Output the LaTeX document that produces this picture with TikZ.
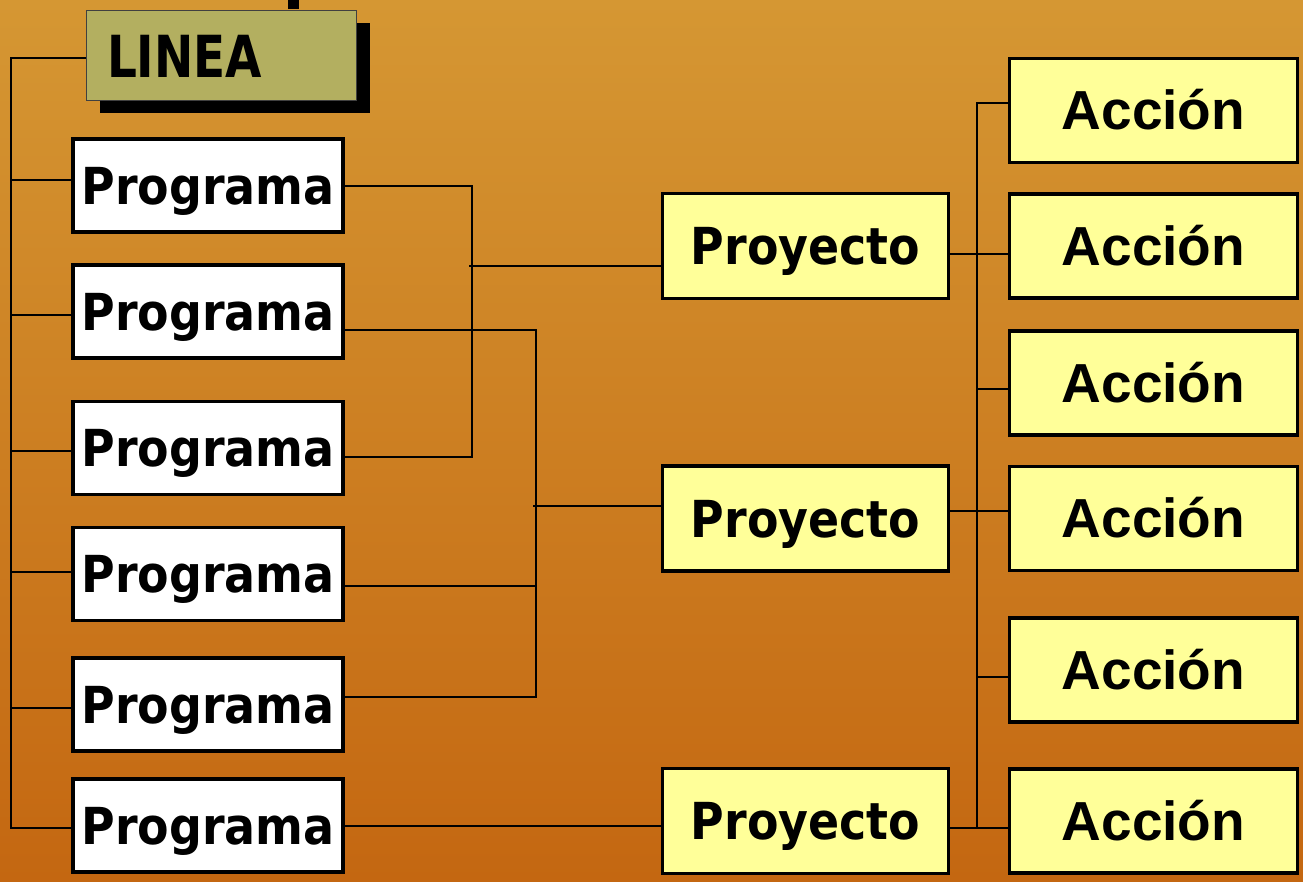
\documentclass[tikz,border=0pt]{standalone}
\usepackage{fontspec}
\newfontfamily\tahfont{DejaVu Sans Condensed}
\newfontfamily\arifont{Liberation Sans}
\usetikzlibrary{shadows,calc}
\definecolor{bgtop}{RGB}{213,151,51}
\definecolor{bgbot}{RGB}{196,103,17}
\definecolor{olivebox}{RGB}{179,175,96}
\definecolor{paleyellow}{RGB}{255,255,153}
\begin{document}
\begin{tikzpicture}[x=1pt,y=-1pt,
  conn/.style={line width=2pt, draw=black},
  linebox/.style={draw=black!75, line width=1.3pt, fill=olivebox, minimum width=270pt, minimum height=90pt, inner sep=0pt,
    text width=229pt, align=left, font=\tahfont\bfseries\fontsize{58}{58}\selectfont, text height=44pt, text depth=0pt,
    drop shadow={shadow xshift=13pt, shadow yshift=-12pt, fill=black, opacity=1}},
  progbox/.style={draw=black, line width=3.5pt, fill=white, minimum width=270pt, minimum height=93pt, inner sep=0pt,
    font=\tahfont\bfseries\fontsize{51}{51}\selectfont, text height=37pt, text depth=0pt},
  projbox/.style={draw=black, line width=3.3pt, fill=paleyellow, minimum width=286pt, minimum height=105pt, inner sep=0pt,
    font=\tahfont\bfseries\fontsize{51}{51}\selectfont, text height=37pt, text depth=0pt},
  actbox/.style={draw=black, line width=3.3pt, fill=paleyellow, minimum width=288pt, minimum height=104pt, inner sep=0pt,
    font=\arifont\bfseries\fontsize{55}{55}\selectfont, text height=38pt, text depth=0pt}
]
\shade[top color=bgtop, bottom color=bgbot] (0,0) rectangle (1303,881);
\useasboundingbox (0,0) rectangle (1303,881);

% top stub
\coordinate (tb) at (293.5,0);

% nodes
\node[linebox] (linea) at (221.5,55.5) {\scalebox{0.9}[1]{LINEA}};
\draw[line width=11pt] ($(tb |- linea.north)+(0,-0.7)$) -- (tb);

\node[progbox] (p1) at (208,185.5) {Programa};
\node[progbox] (p2) at (208,311.5) {Programa};
\node[progbox] (p3) at (208,448) {Programa};
\node[progbox] (p4) at (208,574) {Programa};
\node[progbox] (p5) at (208,704.5) {Programa};
\node[progbox] (p6) at (208,825.5) {Programa};

\node[projbox] (pr1) at (805.5,246) {Proyecto};
\node[projbox] (pr2) at (805.5,518.5) {Proyecto};
\node[projbox] (pr3) at (805.5,821) {Proyecto};

\node[actbox] (a1) at (1153.5,110.5) {Acción};
\node[actbox] (a2) at (1153.5,246) {Acción};
\node[actbox] (a3) at (1153.5,383) {Acción};
\node[actbox] (a4) at (1153.5,518.5) {Acción};
\node[actbox] (a5) at (1153.5,670) {Acción};
\node[actbox] (a6) at (1153.5,821) {Acción};

% left bus
\draw[conn] ([yshift=-2.5pt]linea.west) -- ++(-74.5,0) |- ([yshift=-2.5pt]p6.west);
\draw[conn] ([yshift=5.5pt]p1.west) -- ++(-61,0);
\draw[conn] ([yshift=-3.5pt]p2.west) -- ++(-61,0);
\draw[conn] ([yshift=-3pt]p3.west) -- ++(-61,0);
\draw[conn] ([yshift=2pt]p4.west) -- ++(-61,0);
\draw[conn] ([yshift=-3.5pt]p5.west) -- ++(-61,0);

% programas to proyectos
\draw[conn] (p1.east) -- ++(127,0) |- ([yshift=-9pt]p3.east);
\draw[conn] ([yshift=-20pt]pr1.west) -- ++(-191.5,0);
\draw[conn] ([yshift=-18.5pt]p2.east) -- ++(191,0) |- ([yshift=7.5pt]p5.east);
\draw[conn] ([yshift=-12pt]p4.east) -- ++(191,0);
\draw[conn] ([yshift=12.5pt]pr2.west) -- ++(-127.5,0);
\draw[conn] (p6.east) -- (p6.east -| pr3.west);

% right bus
\draw[conn] ([yshift=7.5pt]a1.west) -- ++(-30.5,0) |- ([yshift=-7pt]a6.west);
\draw[conn] ([yshift=-6pt]a3.west) -- ++(-30.5,0);
\draw[conn] ([yshift=-7pt]a5.west) -- ++(-30.5,0);
\draw[conn] ([yshift=-8pt]pr1.east) -- ([yshift=-8pt]a2.west);
\draw[conn] ([yshift=7.5pt]pr2.east) -- ([yshift=7.5pt]a4.west);
\draw[conn] ([yshift=-7pt]pr3.east) -- ([yshift=-7pt]a6.west);
\end{tikzpicture}
\end{document}
